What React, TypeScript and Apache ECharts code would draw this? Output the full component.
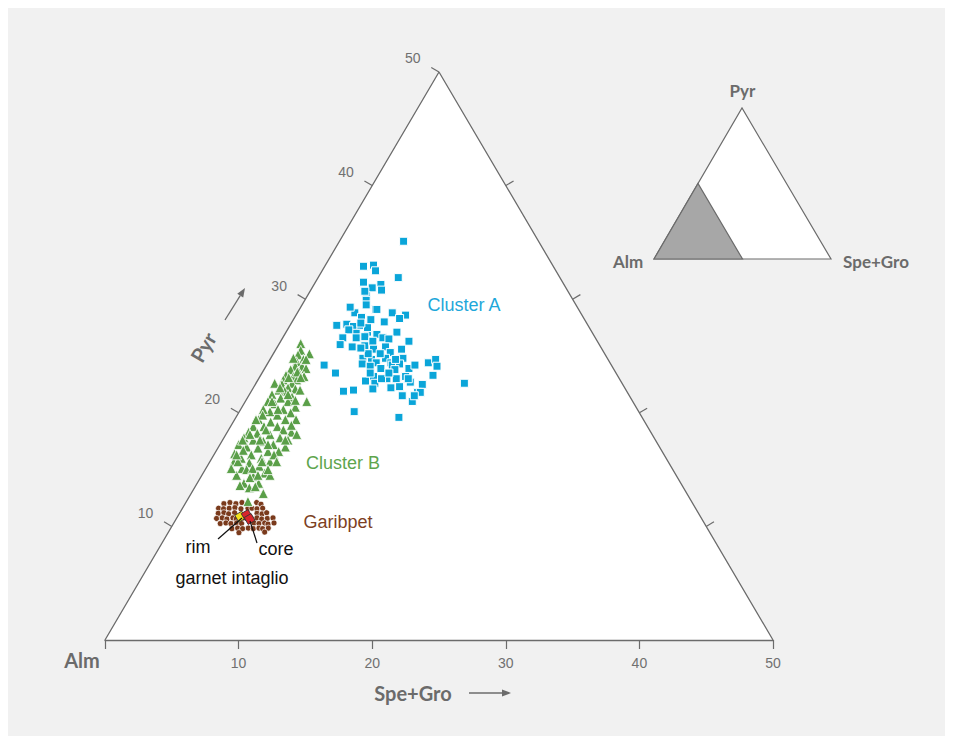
import React, { useEffect, useRef } from "react";
import * as echarts from "echarts";

// ternary values: [Spe+Gro, Pyr] (Alm = remainder), diagram limited to 50
const clusterA: [number, number][] = [
  [4.8,35.1],[2.9,32.9],[3.6,33.0],[4.0,32.5],[6.0,31.9],[3.6,31.5],[4.5,31.0],[5.0,31.3],[5.3,30.8],[4.4,30.3],
  [4.1,30.7],[4.6,29.9],[5.7,29.1],[7.1,28.8],[8.2,28.6],[7.9,28.3],[4.3,28.8],[5.0,28.4],[3.7,29.3],[6.9,28.0],
  [3.5,27.7],[4.2,27.8],[4.8,27.6],[5.3,27.7],[6.1,27.1],[5.3,27.0],[4.6,27.3],[6.9,26.9],[8.3,27.1],[4.5,26.6],
  [5.5,26.6],[6.1,26.7],[7.5,26.6],[8.0,26.5],[9.6,26.3],[4.6,26.0],[5.6,25.8],[6.5,25.9],[6.9,26.3],[7.3,25.6],
  [8.1,25.8],[8.7,25.3],[9.4,25.6],[9.9,24.8],[6.9,24.8],[7.6,24.7],[8.1,24.4],[8.6,24.8],[9.2,24.4],[7.1,24.3],
  [7.8,24.1],[8.7,23.9],[9.4,24.2],[9.9,24.3],[10.8,23.9],[11.1,24.2],[12.0,24.4],[12.4,24.7],[12.8,24.1],[4.3,24.2],
  [5.5,23.5],[8.5,23.2],[9.6,23.0],[10.3,23.0],[10.9,23.2],[11.5,22.7],[12.9,23.3],[8.1,22.8],[8.9,22.6],[10.3,22.2],
  [10.9,22.3],[12.5,22.5],[15.6,22.6],[6.9,21.9],[7.6,22.0],[9.0,22.1],[11.5,21.5],[12.5,21.8],[12.7,21.8],[12.5,21.0],
  [8.6,20.1],[12.2,19.6],[5.9,27.5],[5.8,28.2],[5.2,27.9],[4.8,29.5],[5.8,29.1],[9.8,23.8],[9.4,24.7],[8.0,25.2],
  [7.1,25.2],[6.3,25.7],[11.2,23.0],[9.2,23.0],[9.5,23.5],[8.1,23.5],[12.4,21.5]
];

const clusterB: [number, number][] = [
  [1.6,26.1],[1.9,25.5],[2.7,25.2],[1.9,25.1],[2.5,24.7],[2.1,24.5],[2.7,24.1],[2.2,24.1],[3.1,23.9],[2.0,23.8],
  [2.7,23.6],[3.3,23.2],[2.5,23.2],[1.9,23.3],[1.9,22.9],[2.9,22.9],[2.7,22.6],[2.0,22.5],[1.4,22.6],[2.6,22.2],
  [3.2,22.1],[2.5,21.9],[2.0,22.0],[4.6,21.0],[1.7,21.6],[3.3,21.4],[2.5,21.3],[3.2,21.0],[2.3,20.8],[1.7,21.0],
  [4.0,20.5],[3.2,20.3],[2.3,20.1],[1.7,20.3],[3.9,20.0],[3.0,19.8],[1.8,19.4],[3.8,19.4],[2.8,19.2],[4.6,19.4],
  [1.7,18.8],[2.5,18.8],[3.5,18.8],[4.1,18.5],[4.8,18.3],[5.3,18.1],[1.6,18.3],[2.3,18.2],[3.3,18.1],[4.2,17.8],
  [4.9,17.6],[1.5,17.8],[2.3,17.6],[3.1,17.5],[4.0,17.2],[5.0,17.0],[2.1,17.0],[1.4,17.2],[3.0,16.9],[3.9,16.6],
  [4.7,16.6],[1.5,16.4],[2.8,16.3],[2.2,16.0],[3.7,16.0],[4.5,15.7],[1.8,15.7],[3.0,15.6],[3.9,15.3],[2.7,15.1],
  [4.6,14.7],[2.6,14.5],[3.9,14.4],[5.1,14.5],[3.5,13.8],[4.6,13.8],[4.1,13.4],[5.4,12.9],[4.6,12.2],
  [2.6,23.6],[2.2,23.1],[2.0,22.2],[2.0,21.0],[1.9,19.8],[1.6,19.4],[1.8,18.1],[2.0,16.7],[2.1,15.7],[3.1,15.0],
  [3.5,15.1],[3.9,15.7],[4.5,16.3],[2.8,18.5],[2.8,20.3],[2.9,21.6],[3.1,23.1],[1.7,24.8],[2.8,17.6],[3.6,17.2],
  [3.3,13.6],[4.5,13.5],[3.7,14.3],[1.9,15.1],[2.7,24.7],
  [4.5,18.9],[4.7,17.6],[5.0,15.7],[4.7,15.0],[1.7,16.3],[1.5,17.6],[4.2,14.5],[3.6,22.0],[3.7,21.1]
];

const garibpet: [number, number][] = [
  [2.9,12.0],[3.3,12.1],[3.8,12.0],[4.2,12.1],[4.7,12.0],[5.3,12.1],[5.7,11.95],
  [2.7,11.6],[3.1,11.55],[3.5,11.6],[3.9,11.65],[4.4,11.55],[4.9,11.6],[5.2,11.6],[5.6,11.55],[6.0,11.6],
  [2.9,11.15],[3.3,11.2],[3.7,11.1],[4.1,11.2],[5.8,11.15],[6.2,11.1],[6.5,11.2],
  [3.0,10.7],[3.4,10.75],[3.8,10.65],[4.2,10.75],[4.5,10.65],[4.9,10.7],[5.6,10.7],[6.0,10.75],[6.4,10.65],[6.8,10.7],[7.2,10.75],
  [3.5,10.25],[3.9,10.3],[4.3,10.25],[4.7,10.3],[5.1,10.25],[6.0,10.3],[6.4,10.25],[6.8,10.3],[7.1,10.2],[7.5,10.3],
  [4.6,9.8],[5.0,9.85],[5.4,9.8],[5.8,9.85],[6.2,9.8],[6.6,9.85],[6.9,9.8],[7.3,9.85],
  [5.3,9.45],[7.2,9.5]
];

const intaglioRim: [number, number][] = [[4.7, 10.85]];
const intaglioCore: [number, number][] = [[5.1, 11.0], [5.5, 10.65]];

const speGroTicks = [0, 10, 20, 30, 40, 50];
const pyrTicks = [10, 20, 30, 40, 50];

// ternary -> cartesian: corners Alm (0,0), Spe+Gro (50,0), Pyr (25,50)
const toXY = (d: [number, number][]) => d.map(([s, p]) => [s + p / 2, p]);

const GRAY = "#6b6b6b";
const LABEL_FONT = "bold 20px Lato, 'Open Sans', sans-serif";
const INSET_FONT = "bold 17px Lato, 'Open Sans', sans-serif";
const ANN_FONT = "18px 'Liberation Sans', Arial, sans-serif";

function txt(text: string, x: number, y: number, font: string, fill: string, rotation = 0) {
  return {
    type: "text",
    x,
    y,
    rotation,
    z: 10,
    style: { text, x: 0, y: 0, font, fill, textAlign: "center", textVerticalAlign: "middle", align: "center", verticalAlign: "middle" },
  };
}

function arrow(x1: number, y1: number, x2: number, y2: number) {
  const dx = x2 - x1, dy = y2 - y1;
  const len = Math.hypot(dx, dy);
  const ux = dx / len, uy = dy / len;
  const hl = 9, hw = 3.5;
  const bx = x2 - ux * hl, by = y2 - uy * hl;
  return [
    { type: "line", z: 10, shape: { x1, y1, x2: bx, y2: by }, style: { stroke: GRAY, lineWidth: 1.3 } },
    {
      type: "polygon",
      z: 10,
      shape: { points: [[x2, y2], [bx - uy * hw, by + ux * hw], [bx + uy * hw, by - ux * hw]] },
      style: { fill: GRAY },
    },
  ];
}

export default function App() {
  const ref = useRef<HTMLDivElement>(null);
  useEffect(() => {
    document.documentElement.style.overflow = "hidden";
    document.body.style.overflow = "hidden";
    const chart = echarts.init(ref.current!, undefined, { renderer: "svg" });

    const inset = [
      { type: "polygon", z: 5, shape: { points: [[646, 251], [734, 100], [823, 251]] }, style: { fill: "#ffffff", stroke: GRAY, lineWidth: 1.2 } },
      { type: "polygon", z: 6, shape: { points: [[646, 251], [690, 175.5], [734.5, 251]] }, style: { fill: "#a7a7a7", stroke: GRAY, lineWidth: 1.2 } },
      txt("Pyr", 734.5, 82, INSET_FONT, GRAY),
      txt("Alm", 620, 253, INSET_FONT, GRAY),
      txt("Spe+Gro", 868, 253, INSET_FONT, GRAY),
    ];

    const option: any = {
      animation: false,
      backgroundColor: "#f1f1f1",
      grid: { left: 97, top: 64, width: 668, height: 568, containLabel: false },
      xAxis: {
        type: "value",
        min: 0,
        max: 50,
        interval: 10,
        z: 5,
        axisLine: { show: true, lineStyle: { color: GRAY, width: 1.3 } },
        axisTick: { show: true, inside: false, length: 9, lineStyle: { color: GRAY, width: 1.2 } },
        axisLabel: {
          show: true,
          margin: 16,
          color: "#707070",
          fontSize: 14,
          fontFamily: "'Liberation Sans', Arial, sans-serif",
          formatter: (v: number) => (v === 0 ? "" : String(v)),
          customValues: speGroTicks,
        },
        splitLine: { show: false },
      },
      yAxis: { type: "value", min: 0, max: 50, show: false, splitLine: { show: false } },
      series: [
        {
          type: "line",
          data: [[0, 0], [25, 50], [50, 0]],
          symbol: "none",
          silent: true,
          z: 1,
          lineStyle: { color: GRAY, width: 1.3 },
          areaStyle: { color: "#ffffff", opacity: 1 },
        },
        {
          type: "custom",
          data: pyrTicks.map((p) => [p]),
          clip: false,
          silent: true,
          z: 3,
          renderItem: (params: any, api: any) => {
            const p = api.value(0);
            const A = api.coord([0, 0]);
            const T = api.coord([25, 50]);
            const R = api.coord([50, 0]);
            const lx = T[0] - A[0], ly = T[1] - A[1];
            const ll = Math.hypot(lx, ly);
            const nl = [ly / ll, -lx / ll];
            const rx = T[0] - R[0], ry = T[1] - R[1];
            const rl = Math.hypot(rx, ry);
            const nr = [-ry / rl, rx / rl];
            const a = api.coord([p / 2, p]);
            const children: any[] = [
              { type: "line", shape: { x1: a[0], y1: a[1], x2: a[0] + nl[0] * 9, y2: a[1] + nl[1] * 9 }, style: { stroke: GRAY, lineWidth: 1.2 } },
              {
                type: "text",
                x: a[0] + nl[0] * 27 - 3,
                y: a[1] + nl[1] * 27,
                style: { text: String(p), font: "14px 'Liberation Sans', Arial, sans-serif", fill: "#707070", textAlign: "center", textVerticalAlign: "middle", align: "center", verticalAlign: "middle" },
              },
            ];
            if (p < 50) {
              const b = api.coord([50 - p / 2, p]);
              children.push({ type: "line", shape: { x1: b[0], y1: b[1], x2: b[0] + nr[0] * 9, y2: b[1] + nr[1] * 9 }, style: { stroke: GRAY, lineWidth: 1.2 } });
            }
            return { type: "group", children };
          },
        },
        {
          name: "Garibpet",
          type: "scatter",
          data: toXY(garibpet),
          symbol: "circle",
          symbolSize: 6,
          z: 4,
          itemStyle: { color: "#7a3a1c", borderColor: "#ffffff", borderWidth: 0.7, opacity: 1 },
        },
        {
          name: "Cluster B",
          type: "scatter",
          data: toXY(clusterB),
          symbol: "triangle",
          symbolSize: 10,
          z: 4,
          itemStyle: { color: "#5a9f48", borderColor: "#ffffff", borderWidth: 0.8, opacity: 1 },
        },
        {
          name: "Cluster A",
          type: "scatter",
          data: toXY(clusterA),
          symbol: "rect",
          symbolSize: 8,
          z: 4,
          itemStyle: { color: "#0aa5d9", borderColor: "#ffffff", borderWidth: 1, opacity: 1 },
        },
        {
          name: "rim",
          type: "scatter",
          data: toXY(intaglioRim),
          symbol: "rect",
          symbolRotate: 30,
          symbolSize: 8,
          z: 6,
          itemStyle: { color: "#f3e21c", borderColor: "#333333", borderWidth: 0.8, opacity: 1 },
        },
        {
          name: "core",
          type: "scatter",
          data: toXY(intaglioCore),
          symbol: "rect",
          symbolRotate: 30,
          symbolSize: 8,
          z: 6,
          itemStyle: { color: "#d7252b", borderColor: "#333333", borderWidth: 0.8, opacity: 1 },
        },
      ],
      graphic: [
        txt("Alm", 74, 652, LABEL_FONT, GRAY),
        txt("Spe+Gro", 405, 685, LABEL_FONT, GRAY),
        ...arrow(461, 685, 503, 685),
        txt("Pyr", 195, 339, LABEL_FONT, GRAY, (59.5 * Math.PI) / 180),
        ...arrow(217, 312, 237, 280),
        txt("Cluster A", 456, 297, ANN_FONT, "#1ea7da"),
        txt("Cluster B", 335, 455, ANN_FONT, "#5ea54d"),
        txt("Garibpet", 330, 514, ANN_FONT, "#7d3f23"),
        txt("rim", 190, 539, ANN_FONT, "#111111"),
        txt("core", 268, 541, ANN_FONT, "#111111"),
        txt("garnet intaglio", 224, 570, ANN_FONT, "#111111"),
        { type: "line", z: 7, shape: { x1: 210, y1: 531, x2: 234, y2: 510 }, style: { stroke: "#111111", lineWidth: 1.2 } },
        { type: "line", z: 7, shape: { x1: 242, y1: 513, x2: 249, y2: 535 }, style: { stroke: "#111111", lineWidth: 1.2 } },
        ...inset,
      ],
    };
    chart.setOption(option);
    return () => chart.dispose();
  }, []);
  return <div ref={ref} style={{ width: 953, height: 736 }} />;
}
